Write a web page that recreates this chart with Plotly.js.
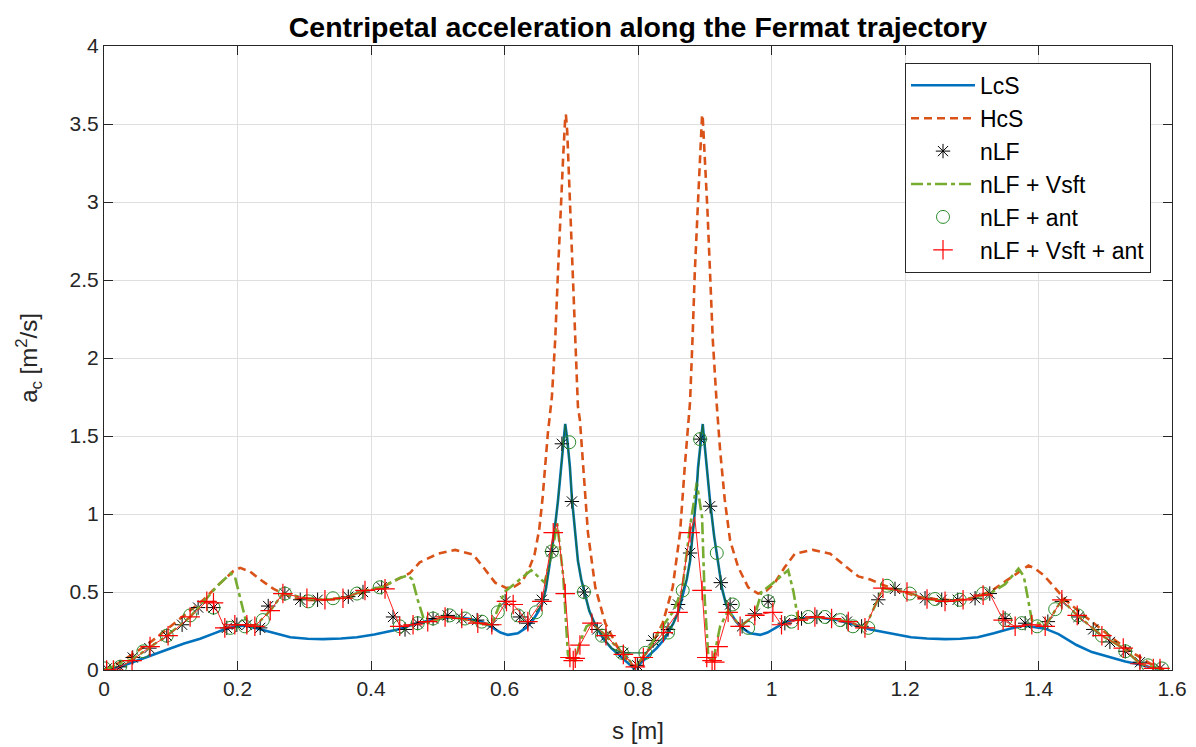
<!DOCTYPE html>
<html>
<head>
<meta charset="utf-8">
<script src="https://cdn.plot.ly/plotly-3.0.1.min.js"></script>
<style>html,body{margin:0;padding:0;background:#fff;}#chart{width:1196px;height:747px;}</style>
</head>
<body>
<div id="chart"></div>
<script>
// ---- LcS (blue solid) ----
const lcsS = [0,0.02,0.043,0.07,0.094,0.12,0.144,0.165,0.178,0.193,0.21,0.231,0.255,0.279,0.305,0.328,0.355,0.379,0.405,0.428,0.44,0.455,0.466,0.49,0.521,0.545,0.566,0.581,0.594,0.605,0.62,0.632,0.641,0.65,0.656,0.662,0.668,0.674,0.68,0.685,0.689,0.691,0.694,0.698,0.701,0.705,0.71,0.715,0.72,0.727,0.735,0.748,0.76,0.773,0.785,0.794,
  0.803,0.815,0.828,0.84,0.853,0.861,0.868,0.873,0.878,0.883,0.887,0.89,0.894,0.897,0.899,0.903,0.908,0.914,0.92,0.926,0.932,0.938,0.947,0.956,0.968,0.983,0.994,1.007,1.022,1.043,1.067,1.098,1.122,1.133,1.148,1.16,1.183,1.209,1.233,1.26,1.283,1.309,1.333,1.357,1.378,1.395,1.41,1.43,1.457,1.48,1.507,1.53,1.552,1.57,1.585];
const lcsA = [0,0.015,0.05,0.09,0.13,0.17,0.2,0.235,0.256,0.275,0.285,0.265,0.235,0.21,0.2,0.198,0.202,0.21,0.228,0.25,0.26,0.28,0.295,0.32,0.338,0.33,0.31,0.275,0.24,0.225,0.235,0.27,0.31,0.37,0.42,0.52,0.68,0.86,1.08,1.3,1.48,1.577,1.48,1.3,1.1,0.9,0.7,0.58,0.5,0.38,0.3,0.2,0.14,0.09,0.04,0.01,
  0.04,0.09,0.14,0.2,0.3,0.38,0.5,0.58,0.7,0.9,1.1,1.3,1.48,1.577,1.48,1.3,1.08,0.86,0.68,0.52,0.42,0.37,0.31,0.27,0.235,0.225,0.24,0.275,0.31,0.33,0.338,0.32,0.295,0.28,0.26,0.25,0.228,0.21,0.202,0.198,0.2,0.21,0.235,0.265,0.285,0.275,0.265,0.23,0.16,0.115,0.08,0.055,0.035,0.015,0.005];

// ---- HcS (orange dashed) ----
const hcsS = [0,0.02,0.043,0.07,0.094,0.12,0.149,0.17,0.185,0.194,0.204,0.219,0.234,0.254,0.268,0.294,0.319,0.343,0.369,0.394,0.416,0.443,0.458,0.473,0.5,0.526,0.553,0.568,0.586,0.603,0.615,0.626,0.636,0.645,0.652,0.657,0.665,0.671,0.676,0.68,0.684,0.688,0.691,0.692,0.694,0.698,0.703,0.706,0.71,0.713,0.718,0.725,0.736,0.751,0.769,0.788,0.794,
  0.8,0.819,0.837,0.852,0.863,0.87,0.875,0.878,0.882,0.885,0.89,0.894,0.896,0.897,0.9,0.904,0.908,0.912,0.918,0.923,0.93,0.938,0.95,0.965,0.98,0.993,1.005,1.02,1.035,1.062,1.088,1.103,1.115,1.13,1.148,1.167,1.194,1.219,1.245,1.269,1.294,1.32,1.334,1.354,1.368,1.385,1.395,1.407,1.42,1.432,1.44,1.468,1.494,1.518,1.545,1.568,1.588];
const hcsA = [0,0.04,0.1,0.18,0.26,0.35,0.45,0.54,0.6,0.635,0.655,0.63,0.58,0.52,0.49,0.45,0.447,0.455,0.47,0.505,0.53,0.59,0.62,0.69,0.745,0.77,0.74,0.66,0.56,0.525,0.535,0.565,0.64,0.74,0.9,1.1,1.52,1.75,2.12,2.54,2.95,3.3,3.54,3.56,3.45,3.01,2.54,2.16,1.69,1.6,1.3,0.88,0.53,0.3,0.15,0.04,0.02,
  0.04,0.15,0.3,0.53,0.88,1.3,1.6,1.72,2.16,2.54,3.01,3.45,3.56,3.54,3.3,2.95,2.54,2.12,1.7,1.41,1.09,0.83,0.66,0.53,0.49,0.51,0.56,0.66,0.745,0.77,0.745,0.69,0.65,0.6,0.58,0.545,0.505,0.47,0.455,0.447,0.45,0.49,0.52,0.58,0.62,0.67,0.65,0.61,0.55,0.49,0.45,0.35,0.26,0.18,0.1,0.04,0];

// ---- nLF (black asterisks) ----
const nlfS = [0.004,0.024,0.043,0.068,0.094,0.117,0.141,0.164,0.184,0.199,0.214,0.234,0.246,0.271,0.294,0.32,0.366,0.388,0.416,0.433,0.451,0.47,0.493,0.515,0.536,0.559,0.581,0.601,0.623,0.635,0.656,0.671,0.686,0.701,0.719,0.739,0.752,0.778,0.799,
  0.823,0.845,0.86,0.878,0.893,0.908,0.924,0.938,0.956,0.975,0.995,1.02,1.045,1.068,1.09,1.113,1.135,1.16,1.185,1.23,1.255,1.279,1.305,1.327,1.35,1.38,1.414,1.435,1.46,1.482,1.507,1.53,1.552,1.582];
const nlfA = [0.01,0.02,0.08,0.14,0.22,0.29,0.40,0.40,0.27,0.29,0.29,0.27,0.41,0.49,0.45,0.45,0.47,0.50,0.53,0.34,0.26,0.30,0.33,0.35,0.33,0.32,0.29,0.44,0.34,0.30,0.45,0.76,1.45,1.08,0.50,0.26,0.22,0.11,0.03,
  0.19,0.26,0.42,0.75,1.48,1.05,0.56,0.42,0.28,0.36,0.44,0.30,0.33,0.34,0.33,0.31,0.28,0.45,0.52,0.46,0.45,0.45,0.46,0.49,0.33,0.30,0.31,0.44,0.34,0.26,0.18,0.12,0.05,0.01];

// ---- nLF + Vsft (green dash-dot) ----
const vsftS = [0,0.043,0.094,0.129,0.15,0.17,0.185,0.19,0.196,0.205,0.214,0.226,0.249,0.268,0.304,0.331,0.358,0.391,0.416,0.443,0.455,0.462,0.47,0.478,0.485,0.511,0.536,0.56,0.581,0.6,0.62,0.64,0.66,0.671,0.679,0.688,0.695,0.7,0.706,0.713,0.723,0.731,0.752,0.778,0.796,
  0.813,0.83,0.852,0.866,0.878,0.888,0.896,0.9,0.905,0.911,0.915,0.923,0.935,0.953,0.975,0.985,1.0,1.013,1.025,1.033,1.04,1.065,1.09,1.115,1.14,1.167,1.203,1.233,1.26,1.287,1.317,1.327,1.35,1.37,1.378,1.385,1.39,1.41,1.435,1.458,1.495,1.527,1.552,1.588];
const vsftA = [0,0.07,0.22,0.34,0.44,0.54,0.6,0.62,0.6,0.45,0.29,0.28,0.38,0.49,0.46,0.45,0.46,0.51,0.53,0.59,0.605,0.58,0.45,0.34,0.3,0.34,0.33,0.30,0.29,0.5,0.57,0.64,0.56,0.75,0.94,0.6,0.1,0.05,0.06,0.18,0.28,0.30,0.22,0.10,0.02,
  0.11,0.24,0.37,0.51,0.92,1.2,0.98,0.45,0.11,0.045,0.11,0.28,0.38,0.28,0.35,0.5,0.55,0.6,0.64,0.5,0.32,0.34,0.33,0.31,0.27,0.525,0.5,0.455,0.44,0.45,0.48,0.49,0.55,0.65,0.6,0.45,0.32,0.28,0.45,0.35,0.22,0.14,0.04,0];

// ---- nLF + ant (green circles) ----
const antS = [0.001,0.024,0.059,0.094,0.129,0.164,0.189,0.211,0.238,0.271,0.306,0.343,0.379,0.413,0.443,0.47,0.493,0.518,0.541,0.566,0.59,0.62,0.647,0.671,0.697,0.719,0.746,0.776,
  0.811,0.845,0.867,0.893,0.918,0.942,0.965,0.995,1.03,1.055,1.08,1.103,1.122,1.145,1.173,1.207,1.245,1.282,1.317,1.35,1.375,1.398,1.425,1.459,1.495,1.53,1.564,1.585];
const antA = [0.01,0.02,0.12,0.22,0.35,0.40,0.27,0.28,0.32,0.49,0.44,0.46,0.49,0.53,0.28,0.30,0.33,0.35,0.33,0.31,0.37,0.35,0.37,0.76,1.46,0.50,0.22,0.11,
  0.11,0.24,0.51,1.48,0.75,0.42,0.27,0.44,0.31,0.34,0.34,0.32,0.28,0.27,0.54,0.49,0.455,0.45,0.49,0.32,0.30,0.28,0.39,0.35,0.22,0.12,0.03,0.01];
// thin green line visible along the peaks
const antPeakS = [0.647,0.656,0.662,0.668,0.674,0.68,0.685,0.689,0.691,0.694,0.698,0.701,0.705,0.71,0.715,0.72,0.727,0.735,0.746,0.76,0.776,
  0.811,0.828,0.845,0.853,0.861,0.867,0.873,0.878,0.883,0.887,0.89,0.894,0.897,0.899,0.903,0.908,0.914,0.92,0.926,0.932,0.942];
const antPeakA = [0.37,0.42,0.52,0.68,0.86,1.08,1.3,1.48,1.577,1.48,1.3,1.1,0.9,0.7,0.58,0.5,0.38,0.3,0.22,0.14,0.11,
  0.11,0.17,0.24,0.3,0.38,0.51,0.58,0.7,0.9,1.1,1.3,1.48,1.577,1.48,1.3,1.08,0.86,0.68,0.52,0.42,0.42];

// ---- nLF + Vsft + ant (red +) ----
const allS = [0.004,0.014,0.042,0.069,0.096,0.129,0.154,0.164,0.181,0.196,0.214,0.226,0.249,0.268,0.304,0.331,0.358,0.391,0.421,0.443,0.463,0.485,0.511,0.536,0.56,0.581,0.603,0.613,0.635,0.656,0.673,0.691,0.698,0.703,0.706,0.713,0.731,0.752,0.778,0.796,
  0.808,0.838,0.86,0.878,0.896,0.903,0.911,0.915,0.92,0.935,0.953,0.975,1.002,1.015,1.04,1.065,1.09,1.115,1.14,1.167,1.203,1.233,1.26,1.287,1.317,1.347,1.365,1.39,1.41,1.435,1.458,1.495,1.527,1.552,1.572,1.582];
const allA = [0.0,0.0,0.06,0.15,0.22,0.34,0.44,0.43,0.27,0.29,0.29,0.28,0.38,0.49,0.46,0.45,0.46,0.51,0.52,0.28,0.29,0.31,0.34,0.33,0.30,0.29,0.44,0.42,0.31,0.44,0.88,0.49,0.08,0.06,0.075,0.16,0.30,0.22,0.10,0.02,
  0.08,0.24,0.37,0.88,0.51,0.08,0.06,0.05,0.15,0.37,0.28,0.35,0.37,0.29,0.32,0.34,0.33,0.31,0.27,0.525,0.5,0.455,0.44,0.45,0.48,0.32,0.28,0.29,0.28,0.45,0.35,0.22,0.14,0.04,0.01,0.01];
// thin red line joining the red samples
const allLineS = [0.004,0.014,0.042,0.069,0.096,0.129,0.154,0.164,0.181,0.196,0.214,0.226,0.249,0.268,0.304,0.331,0.358,0.391,0.421,0.443,0.463,0.485,0.511,0.536,0.56,0.581,0.603,0.613,0.635,0.656,0.673,0.679,0.691,0.698,0.703,0.706,0.713,0.731,0.752,0.778,0.796,
  0.808,0.838,0.86,0.878,0.885,0.896,0.903,0.911,0.915,0.92,0.935,0.953,0.975,1.002,1.015,1.04,1.065,1.09,1.115,1.14,1.167,1.203,1.233,1.26,1.287,1.317,1.327,1.347,1.365,1.39,1.41,1.435,1.458,1.495,1.527,1.552,1.572,1.582];
const allLineA = [0.0,0.0,0.06,0.15,0.22,0.34,0.44,0.43,0.27,0.29,0.29,0.28,0.38,0.49,0.46,0.45,0.46,0.51,0.52,0.28,0.29,0.31,0.34,0.33,0.30,0.29,0.44,0.42,0.31,0.44,0.88,0.94,0.49,0.08,0.06,0.075,0.16,0.30,0.22,0.10,0.02,
  0.08,0.24,0.37,0.88,0.98,0.51,0.08,0.06,0.05,0.15,0.37,0.28,0.35,0.37,0.29,0.32,0.34,0.33,0.31,0.27,0.525,0.5,0.455,0.44,0.45,0.48,0.49,0.32,0.28,0.29,0.28,0.45,0.35,0.22,0.14,0.04,0.01,0.01];

const xTicks = [0,0.2,0.4,0.6,0.8,1,1.2,1.4,1.6];
const yTicks = [0,0.5,1,1.5,2,2.5,3,3.5,4];

const FONT = 'Liberation Sans, Arial, Helvetica, sans-serif';
const AX = '#262626';

const traces = [
  {x: lcsS, y: lcsA, name: 'LcS', mode: 'lines', line: {color: '#0072BD', width: 2.6}},
  {x: hcsS, y: hcsA, name: 'HcS', mode: 'lines', line: {color: '#D95319', width: 2.6, dash: '8px,5px'}},
  {x: nlfS, y: nlfA, name: 'nLF', mode: 'markers', marker: {symbol: 'asterisk-open', size: 12, color: '#000', line: {color: '#000', width: 1}}},
  {x: vsftS, y: vsftA, name: 'nLF + Vsft', mode: 'lines', line: {color: '#77AC30', width: 2.6, dash: '12px,4px,4px,4px'}},
  {x: antPeakS, y: antPeakA, name: 'antline', mode: 'lines', line: {color: '#1a6a3a', width: 1.2}, showlegend: false, hoverinfo: 'skip'},
  {x: antS, y: antA, name: 'nLF + ant', mode: 'markers', marker: {symbol: 'circle-open', size: 13, color: '#2b8a2b', line: {color: '#2b8a2b', width: 1}}},
  {x: allLineS, y: allLineA, name: 'allline', mode: 'lines', line: {color: '#FF2020', width: 1}, showlegend: false, hoverinfo: 'skip'},
  {x: allS, y: allA, name: 'nLF + Vsft + ant', mode: 'markers', marker: {symbol: 'cross-thin-open', size: 14, color: '#FF0000', line: {color: '#FF0000', width: 1.2}}}
];

const axisCommon = {
  showgrid: true, gridcolor: '#dfdfdf', gridwidth: 1,
  zeroline: false, showline: true, linecolor: AX, linewidth: 1, mirror: 'ticks',
  ticks: 'inside', ticklen: 9, tickcolor: AX, tickwidth: 1,
  tickfont: {family: FONT, size: 21, color: AX}
};

const layout = {
  width: 1196, height: 747,
  margin: {l: 104, r: 24, t: 46, b: 77},
  paper_bgcolor: '#fff', plot_bgcolor: '#fff',
  title: {text: '<b>Centripetal acceleration along the Fermat trajectory</b>', font: {family: FONT, size: 28.5, color: '#000'}, xref: 'paper', x: 0.5, xanchor: 'center', yref: 'container', y: 0.964, yanchor: 'middle'},
  xaxis: Object.assign({}, axisCommon, {range: [0, 1.6], tickvals: xTicks, ticktext: xTicks.map(String),
    title: {text: 's [m]', font: {family: FONT, size: 24, color: AX}, standoff: 22}}),
  yaxis: Object.assign({}, axisCommon, {range: [0, 4], tickvals: yTicks, ticktext: yTicks.map(String),
    title: {text: 'a<sub>c</sub> [m<sup>2</sup>/s]', font: {family: FONT, size: 24, color: AX}, standoff: 25}}),
  legend: {x: 0.75, y: 0.973, xanchor: 'left', yanchor: 'top', bgcolor: '#fff', bordercolor: AX, borderwidth: 1,
    font: {family: FONT, size: 23, color: '#000'}, itemwidth: 64},
  showlegend: true
};

Plotly.newPlot('chart', traces, layout, {displayModeBar: false, staticPlot: true});
</script>
</body>
</html>
